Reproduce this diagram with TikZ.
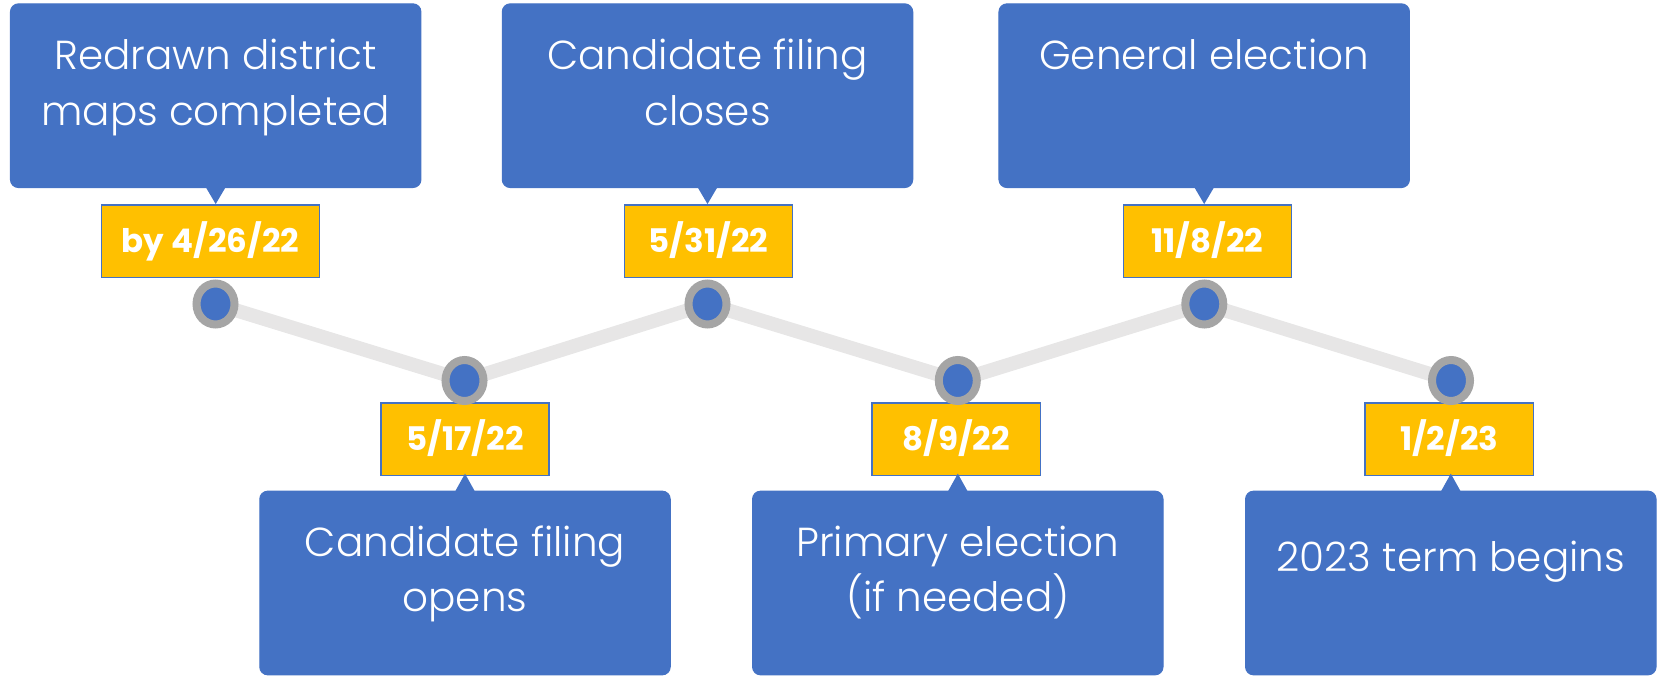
\documentclass[tikz,border=0pt]{standalone}
\usepackage{fontspec}
\setmainfont{Poppins}
\IfFontExistsTF{Poppins Light}{\newfontfamily\evfont{Poppins Light}}{\newfontfamily\evfont{Poppins}}
\usetikzlibrary{shapes.geometric}
\definecolor{cblue}{HTML}{4472C4}
\definecolor{cyellow}{HTML}{FFC000}
\definecolor{cgray}{HTML}{A5A5A5}
\definecolor{cline}{HTML}{E7E6E6}
\begin{document}
\begin{tikzpicture}[x=1pt,y=-1pt,
  evbox/.style={fill=cblue, draw=cblue, line width=1pt, rounded corners=8pt,
    minimum width=410.5pt, minimum height=183.7pt, inner sep=0pt},
  datebox/.style={fill=cyellow, draw=cblue, line width=1.5pt, minimum height=72.7pt,
    minimum width=168.4pt, inner sep=0pt, text=white,
    font=\fontsize{32.5}{33}\selectfont\bfseries, text height=23pt, text depth=0pt},
  dot/.style={ellipse, draw=cgray, fill=cblue, line width=8pt,
    minimum width=38pt, minimum height=41pt, inner sep=0pt},
  txt/.style={text=white, font=\evfont\fontsize{40.5}{41}\selectfont, inner sep=0pt, anchor=base},
  timeline/.style={draw=cline, line width=14pt},
  pointer/.style={fill=cblue}
]
\useasboundingbox (0,0) rectangle (1661,676);

% event boxes
\node[evbox] (b1) at (215.7,95.7) {};
\node[evbox] (b2) at (707.5,95.7) {};
\node[evbox] (b3) at (1204.2,95.7) {};
\node[evbox] (b4) at (465,583) {};
\node[evbox] (b5) at (957.8,583) {};
\node[evbox] (b6) at (1450.8,583) {};

% texts
\node[txt] (t1a) at (215.7,70) {Redrawn district};
\node[txt] (t1b) at (215.7,126) {maps completed};
\node[txt] (t2a) at (707.5,70) {Candidate filing};
\node[txt] (t2b) at (707.5,126) {closes};
\node[txt] (t3a) at (1204.2,70) {General election};
\node[txt] (t4a) at (465,556.7) {Candidate filing};
\node[txt] (t4b) at (465,611.7) {opens};
\node[txt] (t5a) at (957.8,556.7) {Primary election};
\node[txt] (t5b) at (957.8,611.7) {(if needed)};
\node[txt] (t6a) at (1450.8,571.7) {2023 term begins};

% date boxes
\node[datebox, minimum width=217.6pt] (d1) at (210.5,241.3) {by 4/26/22};
\node[datebox] (d2) at (465,439.2) {5/17/22};
\node[datebox] (d3) at (708.5,241.3) {5/31/22};
\node[datebox] (d4) at (956.2,439.2) {8/9/22};
\node[datebox] (d5) at (1207.5,241.3) {11/8/22};
\node[datebox] (d6) at (1449.2,439.2) {1/2/23};

% pointers
\fill[pointer] (b1.south) ++(-10,-1) -- ++(10,17) -- ++(10,-17) -- cycle;
\fill[pointer] (b2.south) ++(-10,-1) -- ++(10,17) -- ++(10,-17) -- cycle;
\fill[pointer] (b3.south) ++(-10,-1) -- ++(10,17) -- ++(10,-17) -- cycle;
\fill[pointer] (b4.north) ++(-10,1) -- ++(10,-18) -- ++(10,18) -- cycle;
\fill[pointer] (b5.north) ++(-10,1) -- ++(10,-18) -- ++(10,18) -- cycle;
\fill[pointer] (b6.north) ++(-10,1) -- ++(10,-18) -- ++(10,18) -- cycle;

% timeline
\coordinate (p1) at (215.5,304);
\coordinate (p2) at (464.5,380.5);
\coordinate (p3) at (707.5,304);
\coordinate (p4) at (957.8,380.5);
\coordinate (p5) at (1204.3,304);
\coordinate (p6) at (1451,380.5);
\draw[timeline] (p1) -- (p2) -- (p3) -- (p4) -- (p5) -- (p6);

\node[dot] (c1) at (p1) {};
\node[dot] (c2) at (p2) {};
\node[dot] (c3) at (p3) {};
\node[dot] (c4) at (p4) {};
\node[dot] (c5) at (p5) {};
\node[dot] (c6) at (p6) {};
\end{tikzpicture}
\end{document}
